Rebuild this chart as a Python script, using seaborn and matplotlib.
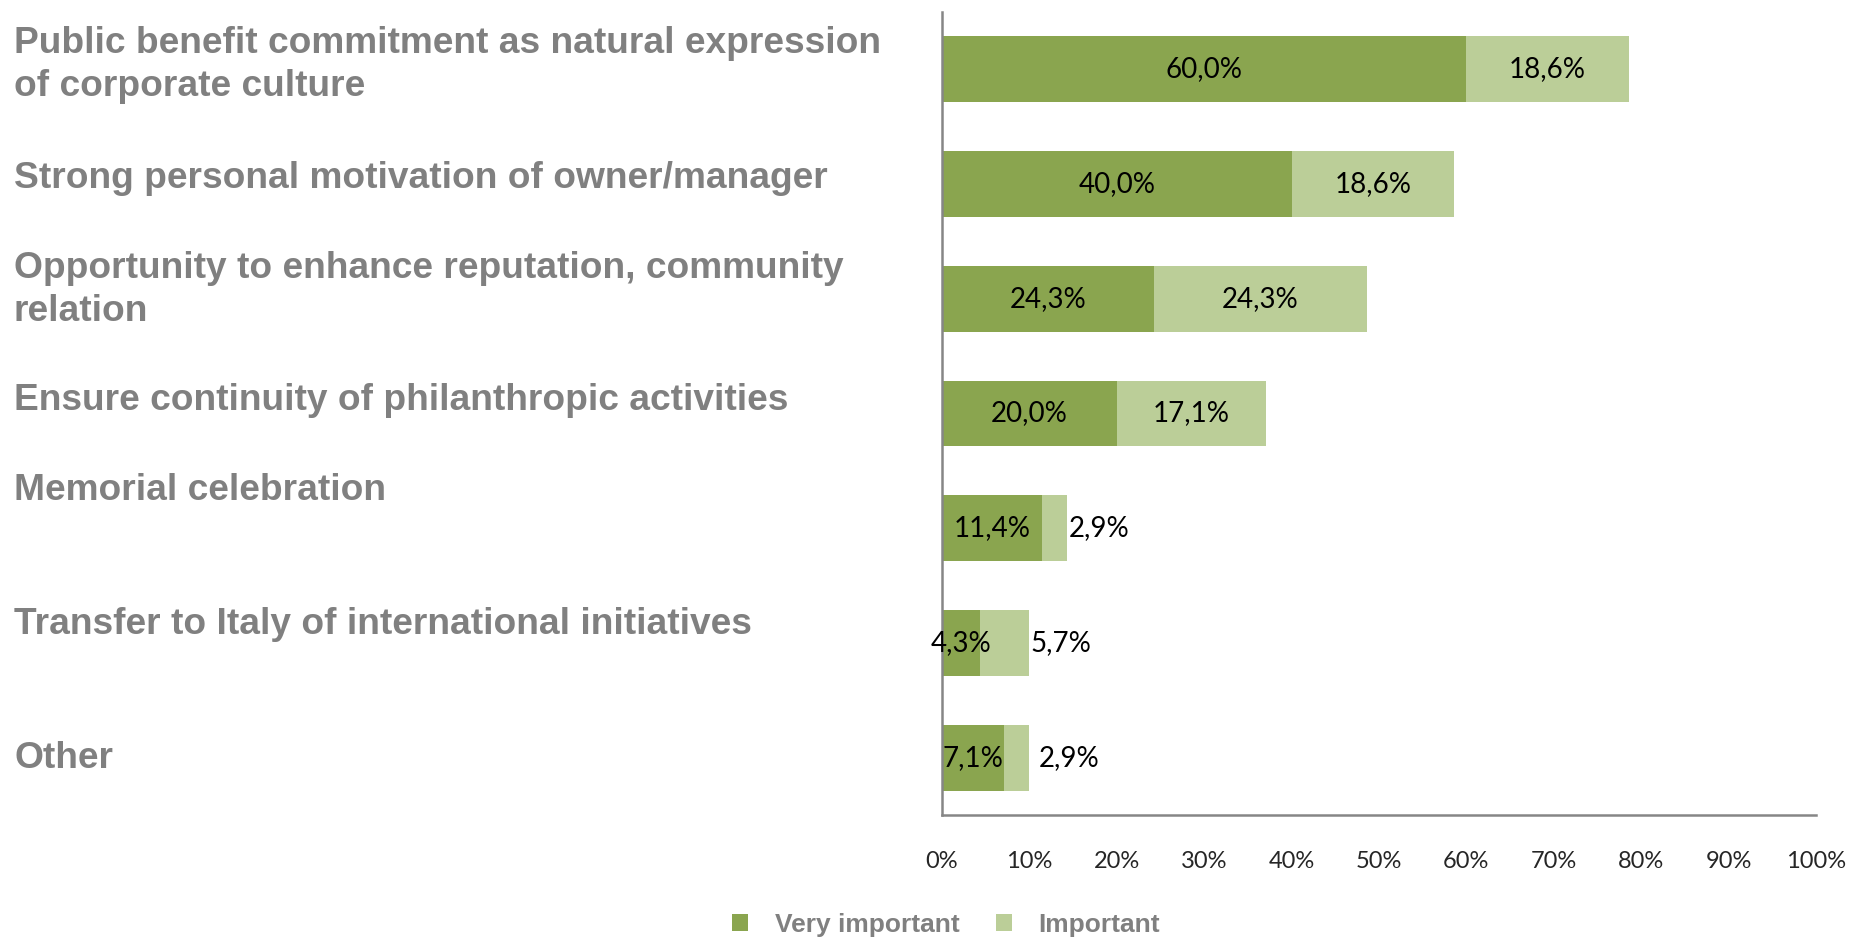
import pandas as pd
import matplotlib.pyplot as plt
import seaborn as sns
from matplotlib.patches import Patch

categories = [
    "Public benefit commitment as natural expression\nof corporate culture",
    "Strong personal motivation of owner/manager",
    "Opportunity to enhance reputation, community\nrelation",
    "Ensure continuity of philanthropic activities",
    "Memorial celebration",
    "Transfer to Italy of international initiatives",
    "Other",
]
very_important = [60.0, 40.0, 24.3, 20.0, 11.4, 4.3, 7.1]
important = [18.6, 18.6, 24.3, 17.1, 2.9, 5.7, 2.9]
x_ticks = [0, 10, 20, 30, 40, 50, 60, 70, 80, 90, 100]
series_names = ["Very important", "Important"]

dark = "#8aa54f"
light = "#bbce98"
grey = "#808080"

# pixel positions (from top) of the left-hand text labels
label_y_px = [65, 178, 290, 401, 490, 624, 758]

sns.set_style("white")
plt.rcParams["font.family"] = ["Liberation Sans", "DejaVu Sans"]

df = pd.DataFrame({"cat": categories, "very": very_important, "imp": important})
df["total"] = df["very"] + df["imp"]

fig = plt.figure(figsize=(18.52, 9.4), dpi=100)
ax = fig.add_axes([942 / 1852, 1 - 815 / 940, (1816 - 942) / 1852, (815 - 12) / 940])

sns.barplot(data=df, x="total", y="cat", color=light, saturation=1, width=0.575,
            linewidth=0, orient="h", ax=ax)
sns.barplot(data=df, x="very", y="cat", color=dark, saturation=1, width=0.575,
            linewidth=0, orient="h", ax=ax)

fmt = lambda v: f"{v:.1f}%".replace(".", ",")
lab_font = dict(family=["Lato", "DejaVu Sans"], fontsize=20, color="black")
for i, row in df.iterrows():
    ax.text(row["very"] / 2, i, fmt(row["very"]), ha="center", va="center", **lab_font)
    if row["imp"] < 6:
        ax.annotate(fmt(row["imp"]), (row["total"], i), xytext=(1 if i != 6 else 7, 0),
                    textcoords="offset points", ha="left", va="center", **lab_font)
    else:
        ax.text(row["very"] + row["imp"] / 2, i, fmt(row["imp"]), ha="center", va="center", **lab_font)

ax.set_xlim(0, 100)
ax.set_ylim(6.5, -0.5)
ax.set_xticks(x_ticks)
ax.set_xticklabels([f"{t}%" for t in x_ticks], family=["Lato", "DejaVu Sans"], fontsize=17)
ax.tick_params(axis="x", length=0, pad=26)
ax.set_yticks([])
ax.set_xlabel("")
ax.set_ylabel("")
sns.despine(ax=ax)
for s in ["left", "bottom"]:
    ax.spines[s].set_color("#868686")
    ax.spines[s].set_linewidth(1.8)

for name, ypx in zip(categories, label_y_px):
    fig.text(14 / 1852, 1 - ypx / 940, name, ha="left", va="center", fontsize=26.7,
             fontweight="bold", color=grey, linespacing=1.33)

handles = [Patch(facecolor=dark, edgecolor="none"), Patch(facecolor=light, edgecolor="none")]
leg = fig.legend(handles, series_names, loc="center", bbox_to_anchor=(0.511, 0.016), ncol=2,
                 frameon=False, prop=dict(size=19, weight="bold"), handlelength=0.6,
                 handleheight=0.6, handletextpad=1.0, columnspacing=1.4)
for t in leg.get_texts():
    t.set_color(grey)

fig.savefig("out.png", dpi=100)
